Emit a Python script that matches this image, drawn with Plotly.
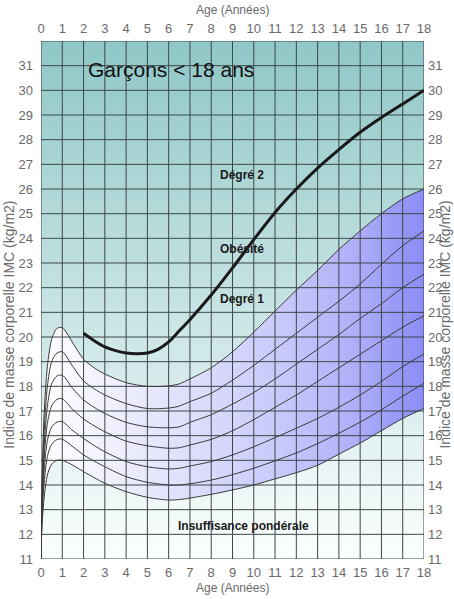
import plotly.graph_objects as go

# ---------------- data ----------------
ages = [0, 0.05, 0.15, 0.3, 0.5, 0.75, 1, 1.5, 2, 2.5, 3, 4, 5, 6, 6.5, 7, 8, 9,
        10, 11, 12, 13, 14, 15, 16, 17, 18]
p97 = [11.0, 14.2, 16.9, 18.8, 19.9, 20.35, 20.38, 19.75, 19.1, 18.75, 18.5, 18.15, 18.0, 18.02, 18.1, 18.3, 18.75, 19.4,
       20.2, 21.05, 21.9, 22.7, 23.55, 24.3, 25.0, 25.6, 26.0]
p90 = [11.0, 13.8, 16.2, 18.0, 19.0, 19.35, 19.4, 18.8, 18.22, 17.9, 17.65, 17.3, 17.1, 17.12, 17.2, 17.38, 17.72, 18.25,
       18.85, 19.5, 20.15, 20.8, 21.45, 22.15, 22.95, 23.7, 24.3]
p75 = [11.0, 13.5, 15.6, 17.2, 18.1, 18.42, 18.45, 17.9, 17.45, 17.15, 16.9, 16.54, 16.36, 16.32, 16.36, 16.54, 16.85, 17.28,
       17.75, 18.3, 18.9, 19.5, 20.1, 20.75, 21.35, 22.0, 22.55]
p50 = [11.0, 13.2, 15.1, 16.5, 17.2, 17.47, 17.5, 17.05, 16.68, 16.4, 16.16, 15.78, 15.59, 15.49, 15.51, 15.62, 15.85, 16.2,
       16.65, 17.15, 17.65, 18.2, 18.75, 19.3, 19.85, 20.4, 20.86]
p25 = [11.0, 12.9, 14.6, 15.8, 16.35, 16.55, 16.57, 16.2, 15.89, 15.6, 15.35, 14.95, 14.74, 14.65, 14.68, 14.77, 14.95, 15.22,
       15.55, 15.92, 16.3, 16.7, 17.15, 17.65, 18.2, 18.8, 19.31]
p10 = [11.0, 12.7, 14.1, 15.15, 15.65, 15.84, 15.86, 15.55, 15.22, 14.97, 14.74, 14.34, 14.11, 14.0, 14.0, 14.05, 14.2, 14.42,
       14.68, 14.98, 15.3, 15.68, 16.1, 16.55, 17.05, 17.6, 18.12]
p3 = [11.0, 12.4, 13.5, 14.4, 14.85, 15.0, 15.0, 14.8, 14.54, 14.3, 14.07, 13.73, 13.5, 13.39, 13.41, 13.47, 13.62, 13.8,
      14.0, 14.25, 14.5, 14.8, 15.25, 15.7, 16.2, 16.7, 17.1]

obesity_ages = [2, 2.5, 3, 3.5, 4, 4.5, 5, 5.5, 6, 6.5, 7, 7.5, 8, 9, 10, 11, 12, 13, 14, 15, 16, 17, 18]
obesity_bmi = [20.15, 19.85, 19.6, 19.45, 19.35, 19.32, 19.35, 19.5, 19.8, 20.25, 20.7, 21.2, 21.7, 22.8, 23.95, 25.05,
               26.0, 26.85, 27.6, 28.3, 28.9, 29.45, 30.0]

x_ticks = list(range(0, 19))
y_ticks = list(range(11, 32))
x_range = [0, 18]
y_range = [11, 32]

title_text = "Garçons < 18 ans"
x_title = "Age (Années)"
y_title = "Indice de masse corporelle IMC (kg/m2)"
zone_labels = ["Dégré 2", "Obésité", "Degré 1", "Insuffisance pondérale"]

# ---------------- styles ----------------
TICK_FONT = dict(family="Liberation Sans Narrow, Arial Narrow, Liberation Sans, sans-serif", size=13, color="#6a6a6a")
LABEL_FONT = dict(family="Liberation Sans Narrow, Arial Narrow, Liberation Sans, sans-serif", size=12, color="#1a1a1a",
                  weight="bold")
AXT_FONT = dict(family="Liberation Sans, Arial, sans-serif", size=12, color="#6a6a6a")
YT_FONT = dict(family="Liberation Sans, Arial, sans-serif", size=14, color="#6a6a6a")
GRID_COLOR = "#3d4848"
CURVE_COLOR = "#3a3a3a"

fig = go.Figure()

# background vertical gradient (whole plot area)
fig.add_trace(go.Scatter(
    x=[x_range[0], x_range[1], x_range[1], x_range[0], x_range[0]],
    y=[y_range[0], y_range[0], y_range[1], y_range[1], y_range[0]],
    mode="lines", line=dict(width=0), fill="toself",
    fillgradient=dict(type="vertical", start=y_range[0], stop=y_range[1],
                      colorscale=[[0, "#fcfefe"], [1, "#90c7c7"]]),
    hoverinfo="skip", showlegend=False))

# band between P3 and P97, horizontal gradient
fig.add_trace(go.Scatter(x=ages, y=p3, mode="lines", line=dict(width=0, shape="spline", smoothing=0.8),
                         hoverinfo="skip", showlegend=False))
fig.add_trace(go.Scatter(
    x=ages, y=p97, mode="lines", line=dict(width=0, shape="spline", smoothing=0.8), fill="tonexty",
    fillgradient=dict(type="horizontal", start=x_range[0], stop=x_range[1],
                      colorscale=[[0, "#ffffff"], [0.3, "#e6e6fd"], [0.6, "#cbcbfb"],
                                  [0.8, "#b1b1f9"], [1, "#8a8af5"]]),
    hoverinfo="skip", showlegend=False))

# grid drawn above the fills
gx, gy = [], []
for xv in x_ticks:
    gx += [xv, xv, None]
    gy += [y_range[0], y_range[1], None]
for yv in y_ticks + [y_range[1]]:
    gx += [x_range[0], x_range[1], None]
    gy += [yv, yv, None]
fig.add_trace(go.Scatter(x=gx, y=gy, mode="lines", line=dict(color=GRID_COLOR, width=1),
                         hoverinfo="skip", showlegend=False))

# percentile curves and obesity threshold on the overlay axes (drawn on top)
for ser in [p97, p90, p75, p50, p25, p10, p3]:
    fig.add_trace(go.Scatter(x=ages, y=ser, mode="lines", xaxis="x2", yaxis="y2",
                             line=dict(color=CURVE_COLOR, width=1, shape="spline", smoothing=0.8),
                             showlegend=False))
fig.add_trace(go.Scatter(x=obesity_ages, y=obesity_bmi, mode="lines", xaxis="x2", yaxis="y2",
                         line=dict(color="#1a1a1a", width=3, shape="spline", smoothing=0.8),
                         showlegend=False))

axis_common = dict(showgrid=False, zeroline=False, showline=False, ticks="", tickfont=TICK_FONT,
                   fixedrange=True)
fig.update_layout(
    width=454, height=599,
    margin=dict(l=41, r=27, t=41, b=40),
    paper_bgcolor="white", plot_bgcolor="white",
    xaxis=dict(range=x_range, tickvals=x_ticks, side="bottom", ticklabelstandoff=4, **axis_common),
    yaxis=dict(range=y_range, tickvals=y_ticks, side="left", ticklabelstandoff=7, **axis_common),
    xaxis2=dict(range=x_range, tickvals=x_ticks, side="top", overlaying="x", anchor="y2",
                ticklabelstandoff=4, **axis_common),
    yaxis2=dict(range=y_range, tickvals=y_ticks, side="right", overlaying="y", anchor="x2",
                ticklabelstandoff=3, **axis_common),
    hovermode=False,
)

annos = [
    dict(text=title_text, x=2.1, y=30.85, xref="x", yref="y", xanchor="left", yanchor="middle",
         font=dict(family="Liberation Sans, Arial, sans-serif", size=21, color="#111111")),
    dict(text=zone_labels[0], x=9.46, y=26.55, xref="x", yref="y", font=LABEL_FONT),
    dict(text=zone_labels[1], x=9.46, y=23.55, xref="x", yref="y", font=LABEL_FONT),
    dict(text=zone_labels[2], x=9.46, y=21.55, xref="x", yref="y", font=LABEL_FONT),
    dict(text=zone_labels[3], x=9.5, y=12.33, xref="x", yref="y", font=LABEL_FONT),
    dict(text=x_title, x=0.5, y=1.06, xref="paper", yref="paper", font=AXT_FONT),
    dict(text=x_title, x=0.5, y=-0.056, xref="paper", yref="paper", font=AXT_FONT),
    dict(text=y_title, x=-0.084, y=0.452, xref="paper", yref="paper", textangle=-90, font=YT_FONT),
    dict(text=y_title, x=1.054, y=0.452, xref="paper", yref="paper", textangle=-90, font=YT_FONT),
]
for a in annos:
    a.setdefault("showarrow", False)
    a.setdefault("xanchor", "center")
    a.setdefault("yanchor", "middle")
fig.update_layout(annotations=annos)

fig.write_html("out.html", config={"displayModeBar": False, "staticPlot": True},
               post_script="document.body.style.margin='0px';")
